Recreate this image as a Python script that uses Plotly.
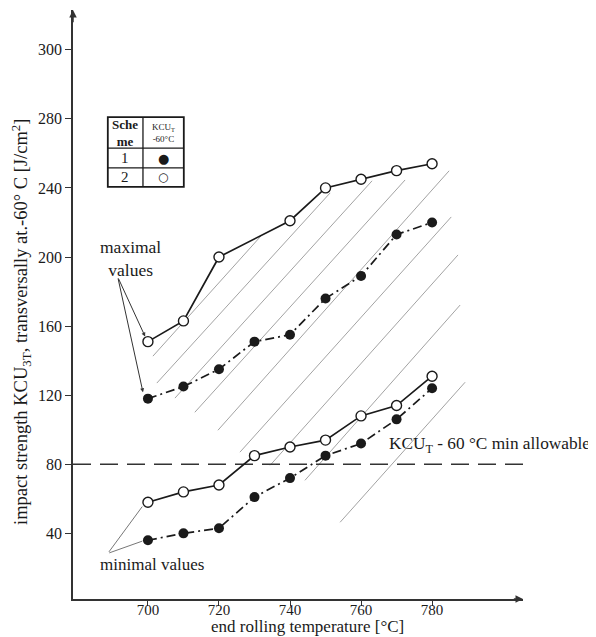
import plotly.graph_objects as go

# ---- data ----
temps = [700, 710, 720, 730, 740, 750, 760, 770, 780]
max_open_x = [700, 710, 720, 740, 750, 760, 770, 780]
max_open_y = [151, 163, 200, 221, 240, 245, 250, 254]
max_fill_y = [118, 125, 135, 151, 155, 176, 189, 213, 220]
min_open_y = [58, 64, 68, 85, 90, 94, 108, 114, 131]
min_fill_y = [36, 40, 43, 61, 72, 85, 92, 106, 124]
min_allow = 80

y_tickvals = [40, 80, 120, 160, 200, 240, 280, 320]
y_ticktext = ["40", "80", "120", "160", "200", "240", "280", "300"]
x_tickvals = [700, 720, 740, 760, 780]

# hatch lines (start/end in data units)
hatch_x0 = [701.4, 702.5, 707.6, 713.2, 719.7, 725.9, 734.4, 744.2, 754.1]
hatch_y0 = [142.6, 127.0, 118.3, 110.1, 99.7, 87.0, 79.4, 70.7, 46.4]
hatch_x1 = [732.1, 751.3, 763.1, 772.4, 784.8, 785.4, 787.3, 787.9, 789.3]
hatch_y1 = [212.8, 237.1, 244.1, 244.6, 249.9, 223.2, 201.2, 172.2, 127.5]

XR = [678.9, 805.6]
YR = [2, 343]
FONT = "Liberation Serif"
INK = "#1a1a1a"

fig = go.Figure()

for x0, y0, x1, y1 in zip(hatch_x0, hatch_y0, hatch_x1, hatch_y1):
    fig.add_trace(go.Scatter(x=[x0, x1], y=[y0, y1], mode="lines",
                             line=dict(color="#a3a3a3", width=1),
                             hoverinfo="skip", showlegend=False))

fig.add_trace(go.Scatter(x=[XR[0], 810.4], y=[min_allow, min_allow], mode="lines",
                         line=dict(color="#333", width=1.3, dash="18px,9px"),
                         showlegend=False, cliponaxis=False))

open_marker = dict(symbol="circle", size=10, color="white", line=dict(color=INK, width=1.4))
fill_marker = dict(symbol="circle", size=10, color=INK)
dashdot = "9px,4px,2px,4px"

fig.add_trace(go.Scatter(x=max_open_x, y=max_open_y, mode="lines+markers",
                         line=dict(color=INK, width=1.7), marker=open_marker,
                         showlegend=False))
fig.add_trace(go.Scatter(x=temps, y=min_open_y, mode="lines+markers",
                         line=dict(color=INK, width=1.7), marker=open_marker,
                         showlegend=False))
fig.add_trace(go.Scatter(x=temps, y=max_fill_y, mode="lines+markers",
                         line=dict(color=INK, width=1.7, dash=dashdot),
                         marker=fill_marker, showlegend=False))
fig.add_trace(go.Scatter(x=temps, y=min_fill_y, mode="lines+markers",
                         line=dict(color=INK, width=1.7, dash=dashdot),
                         marker=fill_marker, showlegend=False))

# legend table
tx = [688.7, 698.6, 710.1]
ty = [281, 263, 251.6, 240.6]
shapes = []
shapes.append(dict(type="rect", x0=tx[0], x1=tx[2], y0=ty[3], y1=ty[0],
                   line=dict(color=INK, width=1.8)))
for yy in ty[1:3]:
    shapes.append(dict(type="line", x0=tx[0], x1=tx[2], y0=yy, y1=yy,
                       line=dict(color=INK, width=1.3)))
shapes.append(dict(type="line", x0=tx[1], x1=tx[1], y0=ty[3], y1=ty[0],
                   line=dict(color=INK, width=1.3)))
fig.update_layout(shapes=shapes)

ann = []
ann.append(dict(x=(tx[0]+tx[1])/2, y=(ty[0]+ty[1])/2, text="<b>Sche<br>me</b>", showarrow=False,
                font=dict(size=13, family=FONT, color=INK)))
ann.append(dict(x=(tx[1]+tx[2])/2, y=(ty[0]+ty[1])/2, text="KCU<sub>T</sub><br>-60°C",
                showarrow=False, font=dict(size=9, family=FONT, color=INK)))
ann.append(dict(x=(tx[0]+tx[1])/2, y=(ty[1]+ty[2])/2, text="1", showarrow=False,
                font=dict(size=15, family=FONT, color=INK)))
ann.append(dict(x=(tx[0]+tx[1])/2, y=(ty[2]+ty[3])/2, text="2", showarrow=False,
                font=dict(size=15, family=FONT, color=INK)))
ann.append(dict(x=(tx[1]+tx[2])/2, y=(ty[1]+ty[2])/2, text="●", showarrow=False,
                font=dict(size=13, family="DejaVu Sans", color=INK)))
ann.append(dict(x=(tx[1]+tx[2])/2, y=(ty[2]+ty[3])/2, text="○", showarrow=False,
                font=dict(size=12, family="DejaVu Sans", color=INK)))

# text labels
ann.append(dict(x=695.2, y=199.4, text="maximal<br>values", showarrow=False,
                xanchor="center", yanchor="middle",
                font=dict(size=17.5, family=FONT, color=INK)))
ann.append(dict(x=686.0, y=22, text="minimal values", showarrow=False,
                xanchor="left", yanchor="middle",
                font=dict(size=17, family=FONT, color=INK)))
ann.append(dict(x=767.3, y=91, text="KCU<sub>T</sub> - 60 °C min allowable", showarrow=False,
                xanchor="left", yanchor="middle",
                font=dict(size=17.3, family=FONT, color=INK)))

# pointers from labels
for tx_, ty_ in [(699.2, 154), (698.6, 121.7)]:
    ann.append(dict(x=tx_, y=ty_, ax=691.5, ay=188.4,
                    axref="x", ayref="y", xref="x", yref="y",
                    showarrow=True, arrowhead=2, arrowsize=0.8, arrowwidth=1,
                    arrowcolor="#333", text=""))
for tx_, ty_ in [(698.4, 55.5), (698.4, 35.5)]:
    ann.append(dict(x=tx_, y=ty_, ax=688.7, ay=28.4,
                    axref="x", ayref="y", xref="x", yref="y",
                    showarrow=True, arrowhead=0, arrowwidth=1,
                    arrowcolor="#777", text=""))

# axis arrows
ann.append(dict(x=XR[1], y=YR[0], ax=XR[1] - 3, ay=YR[0], axref="x", ayref="y",
                xref="x", yref="y", showarrow=True, arrowhead=2, arrowsize=1,
                arrowwidth=1.5, arrowcolor="#333", text=""))
ann.append(dict(x=XR[0], y=YR[1], ax=XR[0], ay=YR[1] - 8, axref="x", ayref="y",
                xref="x", yref="y", showarrow=True, arrowhead=2, arrowsize=1,
                arrowwidth=1.5, arrowcolor="#333", text=""))

# axis titles as annotations
ann.append(dict(xref="paper", yref="paper", x=0.52, y=-0.0475,
                xanchor="center", yanchor="middle",
                text="end rolling temperature [°C]", showarrow=False,
                font=dict(size=17, family=FONT, color=INK)))
ann.append(dict(xref="paper", yref="paper", x=-0.116, y=0.47, textangle=-90,
                xanchor="center", yanchor="middle",
                text="impact strength KCU<sub>3T</sub>, transversally at.-60° C [J/cm<sup>2</sup>]",
                showarrow=False, font=dict(size=18.5, family=FONT, color=INK)))

# page body has an 8px margin, so the figure is shifted by 8px; size it to fit the window
fig.update_layout(
    annotations=ann,
    width=588, height=629,
    margin=dict(l=65, r=73, t=2, b=38),
    plot_bgcolor="white", paper_bgcolor="white",
    font=dict(family=FONT, size=16, color=INK),
    xaxis=dict(range=XR, showgrid=False, zeroline=False, showline=True,
               linecolor="#333", linewidth=1.5, tickvals=x_tickvals,
               ticks="outside", ticklen=5, tickcolor="#333", automargin=False,
               ticklabelstandoff=-9, tickfont=dict(size=15, family=FONT)),
    yaxis=dict(range=YR, showgrid=False, zeroline=False, showline=True,
               linecolor="#333", linewidth=1.5, tickvals=y_tickvals,
               ticktext=y_ticktext, ticks="outside", ticklen=6, tickcolor="#333",
               automargin=False, tickfont=dict(size=16, family=FONT)),
)

fig.write_html("out.html")
